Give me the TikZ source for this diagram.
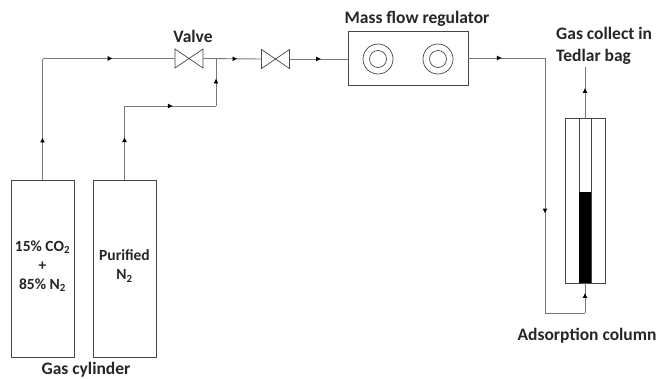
\documentclass[tikz,border=0pt]{standalone}
\usepackage{fontspec}
\setmainfont{Carlito}
\usetikzlibrary{arrows.meta, positioning, decorations.markings}

\definecolor{pipegray}{RGB}{120,120,120}
\definecolor{boxgray}{RGB}{70,70,70}

\tikzset{
    label/.style={font=\fontsize{17.5}{22}\selectfont\bfseries, text=black!85, inner sep=0pt, align=center},
    cylinder box/.style={rectangle, draw=boxgray, line width=0.9pt, minimum width=63pt, minimum height=177pt, inner sep=0pt, outer sep=0pt},
    cylinder text/.style={font=\fontsize{15.5}{19}\selectfont\bfseries, text=black!85, inner sep=0pt, align=center},
    valve box/.style={rectangle, minimum width=28pt, minimum height=19pt, inner sep=0pt, outer sep=0pt},
    pipe/.style={draw=pipegray, line width=0.9pt},
    tip/.style={pipe, postaction={decorate}, decoration={markings, mark=at position #1 with {\arrow{Latex[length=5pt,width=5pt,black]}}}},
    ring/.style={circle, draw=boxgray, line width=0.7pt, inner sep=0pt, outer sep=0pt, minimum size=#1}
}

\begin{document}
\begin{tikzpicture}[x=1pt, y=-1pt]
    \path[use as bounding box, fill=white] (0,0) rectangle (660,378);

    % cylinders
    \node [cylinder box] (mixture) at (42.5,268.5) {};
    \node [cylinder box, right=19pt of mixture] (purified) {};
    \node [cylinder text] (mixturetext) at ([yshift=2.5pt]mixture.center) {15\% CO\textsubscript{2}\\+\\85\% N\textsubscript{2}};
    \node [cylinder text] (purifiedtext) at ([yshift=2.5pt]purified.center) {Purified\\N\textsubscript{2}};
    \node [label] (cylinderlabel) at (86,370) {Gas cylinder};

    % valves
    \node [valve box] (valveone) at (189,58.5) {};
    \node [valve box] (valvetwo) at (275.5,59) {};
    \foreach \v in {valveone, valvetwo}
        \draw[boxgray, line width=0.7pt] (\v.north west) -- (\v.south east) -- (\v.north east) -- (\v.south west) -- cycle;
    \node [label, above=13pt of valveone, xshift=4pt, anchor=center] (valvelabel) {Valve};

    % regulator
    \node [rectangle, draw=boxgray, line width=0.9pt, minimum width=120pt, minimum height=54pt, inner sep=0pt, outer sep=0pt] (regulator) at (408,58) {};
    \node [ring=30pt] (outerleft) at (378,59) {};
    \node [ring=17pt] (innerleft) at (378,59) {};
    \node [ring=30pt] (outerright) at (438,59) {};
    \node [ring=17pt] (innerright) at (438,59) {};
    \node [label] (regulatorlabel) at (417,19) {Mass flow regulator};

    % column
    \node [rectangle, draw=boxgray, line width=0.9pt, minimum width=40pt, minimum height=165pt, inner sep=0pt, outer sep=0pt] (column) at (585,200.5) {};
    \node [rectangle, draw=boxgray, line width=0.9pt, minimum width=12pt, minimum height=165pt, inner sep=0pt, outer sep=0pt] (tube) at (585,200.5) {};
    \node [rectangle, fill=black, minimum width=12pt, minimum height=91pt, inner sep=0pt, outer sep=0pt, anchor=south] (sorbent) at (column.south) {};
    \node [label, align=left, anchor=west] (baglabel) at (556,46) {Gas collect in\\Tedlar bag};
    \node [label] (columnlabel) at (587,336) {Adsorption column};

    % corners of the pipes
    \coordinate (cornerone) at (mixture.north |- valveone.west);
    \coordinate (cornertwo) at (purified.north |- 0,106);
    \coordinate (junction) at (216,58.5);
    \coordinate (cornerthree) at (junction |- cornertwo);
    \coordinate (cornerfour) at (545,58);
    \coordinate (cornerfive) at (545,313);
    \coordinate (cornersix) at (column.south |- cornerfive);
    \coordinate (bagend) at (column.north |- 0,67);

    \draw[tip=0.35] (mixture.north) -- (cornerone);
    \draw[tip=0.53] (cornerone) -- (valveone.west);
    \draw[tip=0.58] (purified.north) -- (cornertwo);
    \draw[tip=0.53] (cornertwo) -- (cornerthree);
    \draw[tip=0.58] (cornerthree) -- (junction);
    \draw[tip=0.59] (valveone.east) -- (valvetwo.west);
    \draw[tip=0.54] (valvetwo.east) -- (regulator.west |- valvetwo.east);
    \draw[tip=0.44] (regulator.east) -- (cornerfour);
    \draw[tip=0.61] (cornerfour) -- (cornerfive);
    \draw[pipe] (cornerfive) -- (cornersix);
    \draw[tip=0.67] (cornersix) -- (column.south);
    \draw[tip=0.59] (column.north) -- (bagend);
\end{tikzpicture}
\end{document}
